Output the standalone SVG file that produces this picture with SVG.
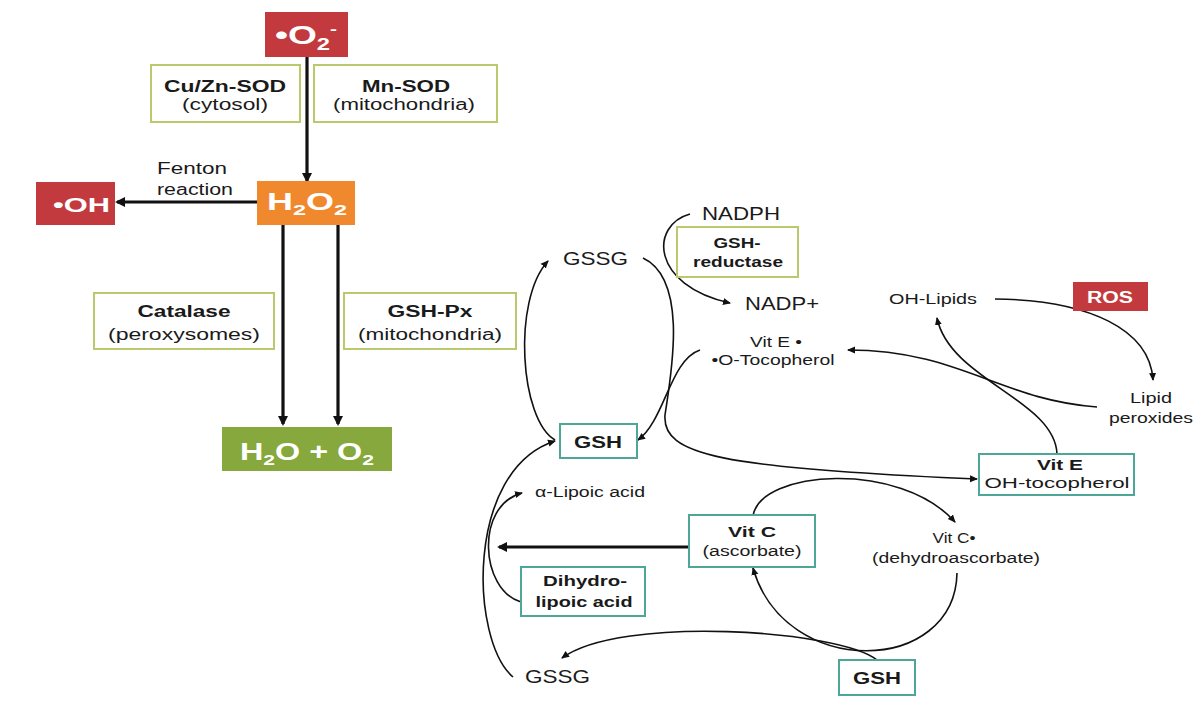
<svg xmlns="http://www.w3.org/2000/svg" width="1198" height="702" viewBox="0 0 1198 702">
<style>
text{font-family:"Liberation Sans",Arial,sans-serif;fill:#1a1a1a}
.b{font-weight:bold}
.w{fill:#fff;font-weight:bold}
.red{fill:#c23a3e}
.gbox{fill:#fff;stroke:#b9c96c;stroke-width:2}
.tbox{fill:#fff;stroke:#4ea698;stroke-width:2}
.thick{fill:none;stroke:#111;stroke-width:3.2}
.thin{fill:none;stroke:#111;stroke-width:1.6}
</style>
<defs>
<marker id="ah" markerWidth="10" markerHeight="10" refX="8" refY="5" orient="auto" markerUnits="userSpaceOnUse"><path d="M0,0 L10,5 L0,10 Z" fill="#111"/></marker>
<marker id="as" markerWidth="8" markerHeight="8" refX="7" refY="4" orient="auto" markerUnits="userSpaceOnUse"><path d="M0,0.5 L8,4 L0,7.5 Z" fill="#111"/></marker>
</defs>
<rect width="1198" height="702" fill="#fff"/>

<g id="connectors">
<path class="thick" d="M307 57 L307 181" marker-end="url(#ah)"/>
<path class="thick" d="M257 202 L117 202" marker-end="url(#ah)"/>
<path class="thick" d="M283 225 L283 424" marker-end="url(#ah)"/>
<path class="thick" d="M338 225 L338 424" marker-end="url(#ah)"/>
<path class="thick" d="M689 547 L499 547" marker-end="url(#ah)"/>
<path class="thin" d="M555 440 C520 420, 512 300, 548 261" marker-end="url(#as)"/>
<path class="thin" d="M643 258 C690 280, 670 380, 665 415 C662 455, 720 468, 977 479" marker-end="url(#as)"/>
<path class="thin" d="M690 214 C650 225, 650 285, 730 303" marker-end="url(#as)"/>
<path class="thin" d="M700 350 C670 360, 665 420, 638 440" marker-end="url(#as)"/>
<path class="thin" d="M1097 407 C1000 400, 960 350, 848 350" marker-end="url(#as)"/>
<path class="thin" d="M1057 454 C1055 400, 950 380, 937 318" marker-end="url(#as)"/>
<path class="thin" d="M995 299 C1090 300, 1150 330, 1153 380" marker-end="url(#as)"/>
<path class="thin" d="M521 602 C480 590, 475 505, 522 493" marker-end="url(#as)"/>
<path class="thin" d="M513 677 C470 640, 465 470, 555 441" marker-end="url(#as)"/>
<path class="thin" d="M753 516 C760 470, 900 460, 955 522" marker-end="url(#as)"/>
<path class="thin" d="M957 573 C955 675, 785 680, 753 568" marker-end="url(#as)"/>
<path class="thin" d="M877 660 C840 630, 620 615, 562 658" marker-end="url(#as)"/>
</g>

<g id="superoxide">
<rect class="red" x="265" y="12" width="83" height="45"/>
<text class="w" x="275" y="44" font-size="25" textLength="62" lengthAdjust="spacingAndGlyphs">•O<tspan font-size="16" dy="6">2</tspan><tspan font-size="14" dy="-16">-</tspan></text>
</g>
<g id="cuzn-sod">
<rect class="gbox" x="151" y="65" width="149" height="57"/>
<text class="b" x="225" y="92" font-size="16" text-anchor="middle" textLength="122" lengthAdjust="spacingAndGlyphs">Cu/Zn-SOD</text>
<text x="225" y="110" font-size="16" text-anchor="middle" textLength="86" lengthAdjust="spacingAndGlyphs">(cytosol)</text>
</g>
<g id="mn-sod">
<rect class="gbox" x="314" y="65" width="183" height="57"/>
<text class="b" x="406" y="92" font-size="16" text-anchor="middle" textLength="88" lengthAdjust="spacingAndGlyphs">Mn-SOD</text>
<text x="404" y="110" font-size="16" text-anchor="middle" textLength="142" lengthAdjust="spacingAndGlyphs">(mitochondria)</text>
</g>
<g id="fenton">
<text x="157" y="174" font-size="16" textLength="70" lengthAdjust="spacingAndGlyphs">Fenton</text>
<text x="157" y="195" font-size="16" textLength="76" lengthAdjust="spacingAndGlyphs">reaction</text>
</g>
<g id="hydroxyl">
<rect class="red" x="36" y="182" width="79" height="43"/>
<text class="w" x="53" y="212" font-size="21" textLength="57" lengthAdjust="spacingAndGlyphs">•OH</text>
</g>
<g id="h2o2">
<rect x="257" y="181" width="98" height="44" fill="#f0892d"/>
<text class="w" x="267" y="210" font-size="23" textLength="80" lengthAdjust="spacingAndGlyphs">H<tspan font-size="15" dy="5">2</tspan><tspan dy="-5">O</tspan><tspan font-size="15" dy="5">2</tspan></text>
</g>
<g id="catalase">
<rect class="gbox" x="94" y="293" width="180" height="56"/>
<text class="b" x="184" y="317" font-size="16" text-anchor="middle" textLength="93" lengthAdjust="spacingAndGlyphs">Catalase</text>
<text x="184" y="340" font-size="16" text-anchor="middle" textLength="152" lengthAdjust="spacingAndGlyphs">(peroxysomes)</text>
</g>
<g id="gsh-px">
<rect class="gbox" x="344" y="293" width="172" height="56"/>
<text class="b" x="430" y="317" font-size="16" text-anchor="middle" textLength="85" lengthAdjust="spacingAndGlyphs">GSH-Px</text>
<text x="430" y="340" font-size="16" text-anchor="middle" textLength="144" lengthAdjust="spacingAndGlyphs">(mitochondria)</text>
</g>
<g id="water">
<rect x="222" y="427" width="170" height="44" fill="#86a83c"/>
<text class="w" x="240" y="460" font-size="23" textLength="134" lengthAdjust="spacingAndGlyphs">H<tspan font-size="15" dy="5">2</tspan><tspan dy="-5">O + O</tspan><tspan font-size="15" dy="5">2</tspan></text>
</g>

<g id="gssg-top"><text x="563" y="265" font-size="18" textLength="65" lengthAdjust="spacingAndGlyphs">GSSG</text></g>
<g id="nadph"><text x="702" y="220" font-size="18" textLength="78" lengthAdjust="spacingAndGlyphs">NADPH</text></g>
<g id="gsh-reductase">
<rect class="gbox" x="677" y="227" width="121" height="50"/>
<text class="b" x="737" y="248" font-size="14" text-anchor="middle" textLength="47" lengthAdjust="spacingAndGlyphs">GSH-</text>
<text class="b" x="738" y="267" font-size="14" text-anchor="middle" textLength="90" lengthAdjust="spacingAndGlyphs">reductase</text>
</g>
<g id="nadp"><text x="745" y="310" font-size="18" textLength="74" lengthAdjust="spacingAndGlyphs">NADP+</text></g>
<g id="vite-radical">
<text x="776" y="347" font-size="14" text-anchor="middle" textLength="52" lengthAdjust="spacingAndGlyphs">Vit E •</text>
<text x="773" y="365" font-size="14" text-anchor="middle" textLength="123" lengthAdjust="spacingAndGlyphs">•O-Tocopherol</text>
</g>
<g id="gsh-mid">
<rect class="tbox" x="560" y="424" width="77" height="34"/>
<text class="b" x="598" y="448" font-size="17" text-anchor="middle" textLength="48" lengthAdjust="spacingAndGlyphs">GSH</text>
</g>
<g id="oh-lipids"><text x="889" y="304" font-size="14" textLength="88" lengthAdjust="spacingAndGlyphs">OH-Lipids</text></g>
<g id="ros">
<rect class="red" x="1073" y="282" width="75" height="29"/>
<text class="w" x="1110" y="303" font-size="16" text-anchor="middle" textLength="46" lengthAdjust="spacingAndGlyphs">ROS</text>
</g>
<g id="lipid-peroxides">
<text x="1151" y="403" font-size="14" text-anchor="middle" textLength="42" lengthAdjust="spacingAndGlyphs">Lipid</text>
<text x="1151" y="423" font-size="14" text-anchor="middle" textLength="84" lengthAdjust="spacingAndGlyphs">peroxides</text>
</g>
<g id="vite">
<rect class="tbox" x="979" y="454" width="155" height="41"/>
<text class="b" x="1060" y="470" font-size="14" text-anchor="middle" textLength="46" lengthAdjust="spacingAndGlyphs">Vit E</text>
<text x="1057" y="488" font-size="14" text-anchor="middle" textLength="145" lengthAdjust="spacingAndGlyphs">OH-tocopherol</text>
</g>
<g id="alpha-lipoic"><text x="535" y="497" font-size="14" textLength="110" lengthAdjust="spacingAndGlyphs">α-Lipoic acid</text></g>
<g id="vitc">
<rect class="tbox" x="689" y="515" width="126" height="52"/>
<text class="b" x="752" y="537" font-size="14" text-anchor="middle" textLength="48" lengthAdjust="spacingAndGlyphs">Vit C</text>
<text x="752" y="556" font-size="14" text-anchor="middle" textLength="99" lengthAdjust="spacingAndGlyphs">(ascorbate)</text>
</g>
<g id="vitc-radical">
<text x="954" y="543" font-size="14" text-anchor="middle" textLength="43" lengthAdjust="spacingAndGlyphs">Vit C•</text>
<text x="956" y="563" font-size="14" text-anchor="middle" textLength="168" lengthAdjust="spacingAndGlyphs">(dehydroascorbate)</text>
</g>
<g id="dihydrolipoic">
<rect class="tbox" x="521" y="567" width="124" height="49"/>
<text class="b" x="585" y="586" font-size="14" text-anchor="middle" textLength="84" lengthAdjust="spacingAndGlyphs">Dihydro-</text>
<text class="b" x="584" y="607" font-size="14" text-anchor="middle" textLength="97" lengthAdjust="spacingAndGlyphs">lipoic acid</text>
</g>
<g id="gssg-bottom"><text x="525" y="683" font-size="18" textLength="65" lengthAdjust="spacingAndGlyphs">GSSG</text></g>
<g id="gsh-bottom">
<rect class="tbox" x="839" y="660" width="76" height="35"/>
<text class="b" x="877" y="684" font-size="17" text-anchor="middle" textLength="48" lengthAdjust="spacingAndGlyphs">GSH</text>
</g>
</svg>
